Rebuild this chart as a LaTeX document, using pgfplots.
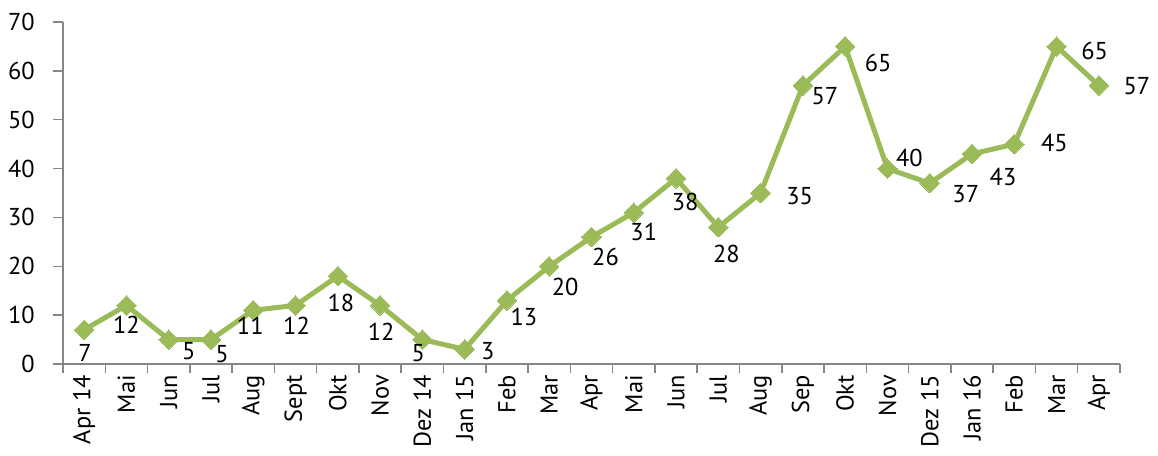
\documentclass[border=0pt]{standalone}
\usepackage{pgfplots}
\pgfplotsset{compat=1.18}
\usepackage{fontspec}
\setmainfont{PT Sans}
\definecolor{lgreen}{HTML}{9BBB59}
\definecolor{axgray}{HTML}{868686}
\newcommand{\ff}{\fontsize{24.5}{29}\selectfont}
\begin{document}
\ff
\begin{tikzpicture}[x=1bp,y=1bp]
\begin{axis}[
  scale only axis,
  width=1057bp, height=342bp,
  xmin=-0.5, xmax=24.5, ymin=0, ymax=70,
  axis lines=left,
  axis line style={-, axgray, line width=1.5bp},
  ytick={0,10,...,70},
  xtick={0,...,24},
  xticklabels={Apr 14,Mai,Jun,Jul,Aug,Sept,Okt,Nov,Dez 14,Jan 15,Feb,Mar,Apr,Mai,Jun,Jul,Aug,Sep,Okt,Nov,Dez 15,Jan 16,Feb,Mar,Apr},
  x tick label style={rotate=90, anchor=east, font=\ff, inner sep=1bp},
  y tick label style={font=\ff, inner sep=0bp, xshift=-18bp},
  /pgf/number format/assume math mode=true,
  major x tick style={draw=none},
  minor xtick={-0.5,0.5,...,24.5},
  minor x tick style={axgray, line width=1.5bp},
  minor tick length=9bp,
  major tick length=10bp,
  ytick style={axgray, line width=1.5bp},
  tick align=outside,
  clip=false,
  lbl/.style 2 args={draw=none, mark=none, forget plot, nodes near coords,
    every node near coord/.append style={anchor=north, font=\ff, inner sep=0bp, text=black, xshift=#1bp, yshift=-#2bp}},
]
\addplot[lgreen, line width=5bp, mark=square*, mark size=6.9bp, mark options={fill=lgreen, line width=0pt, rotate=45}] coordinates {
(0,7)(1,12)(2,5)(3,5)(4,11)(5,12)(6,18)(7,12)(8,5)(9,3)(10,13)(11,20)(12,26)(13,31)(14,38)(15,28)(16,35)(17,57)(18,65)(19,40)(20,37)(21,43)(22,45)(23,65)(24,57)};
\addplot[lbl={1}{14}] coordinates {(0,7)};
\addplot[lbl={0}{11}] coordinates {(1,12)};
\addplot[lbl={20}{3}] coordinates {(2,5)};
\addplot[lbl={11}{6}] coordinates {(3,5)};
\addplot[lbl={-3}{7}] coordinates {(4,11)};
\addplot[lbl={1}{12}] coordinates {(5,12)};
\addplot[lbl={3}{18}] coordinates {(6,18)};
\addplot[lbl={1}{18}] coordinates {(7,12)};
\addplot[lbl={-4}{5}] coordinates {(8,5)};
\addplot[lbl={23}{-7}] coordinates {(9,3)};
\addplot[lbl={17}{7}] coordinates {(10,13)};
\addplot[lbl={16}{12}] coordinates {(11,20)};
\addplot[lbl={14}{11}] coordinates {(12,26)};
\addplot[lbl={10}{10}] coordinates {(13,31)};
\addplot[lbl={9}{15}] coordinates {(14,38)};
\addplot[lbl={8}{18}] coordinates {(15,28)};
\addplot[lbl={39}{-6}] coordinates {(16,35)};
\addplot[lbl={22}{2}] coordinates {(17,57)};
\addplot[lbl={33}{7}] coordinates {(18,65)};
\addplot[lbl={22}{-20}] coordinates {(19,40)};
\addplot[lbl={36}{2}] coordinates {(20,37)};
\addplot[lbl={31}{14}] coordinates {(21,43)};
\addplot[lbl={40}{-10}] coordinates {(22,45)};
\addplot[lbl={38}{-5}] coordinates {(23,65)};
\addplot[lbl={38}{-8}] coordinates {(24,57)};
\end{axis}
\pgfresetboundingbox
\path (current axis.south west) ++(-63bp,-91bp) rectangle ([xshift=38bp,yshift=22bp]current axis.north east);
\end{tikzpicture}
\end{document}
